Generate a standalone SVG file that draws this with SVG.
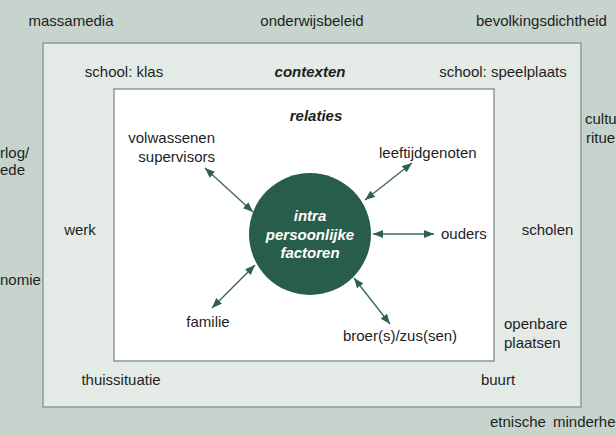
<svg xmlns="http://www.w3.org/2000/svg" width="616" height="436" viewBox="0 0 616 436">
<defs>
<style>
text{font-family:"Liberation Sans",Arial,sans-serif;font-size:15px;fill:#1e1e1e}
.m{text-anchor:middle}
.e{text-anchor:end}
.bi{font-weight:bold;font-style:italic}
.w{fill:#ffffff;font-weight:bold;font-style:italic;text-anchor:middle}
.arr{stroke:#3d6b5c;stroke-width:1.4;fill:none;marker-start:url(#ah);marker-end:url(#ah)}
</style>
<marker id="ah" viewBox="0 0 10 8" refX="10" refY="4" markerWidth="10" markerHeight="8" markerUnits="userSpaceOnUse" orient="auto-start-reverse">
<path d="M0,0 L10,4 L0,8 Z" fill="#2f6150"/>
</marker>
</defs>
<rect id="background" x="0" y="0" width="616" height="436" fill="#c6d4cd"/>
<g id="outer-labels">
<text class="m" x="71" y="26">massamedia</text>
<text class="m" x="312" y="26">onderwijsbeleid</text>
<text x="476" y="26">bevolkingsdichtheid</text>
<text x="585" y="124">cultu</text>
<text x="586" y="143">ritue</text>
<text x="0" y="158">rlog/</text>
<text x="0" y="175">ede</text>
<text x="0" y="285">nomie</text>
<text x="490" y="427">etnische</text>
<text x="553" y="427">minderhe</text>
</g>
<g id="contexten">
<rect x="43" y="43" width="538" height="364" fill="#e4ebe7" stroke="#8d9b95" stroke-width="1.5"/>
<text class="m" x="124" y="77">school: klas</text>
<text class="m bi" x="310" y="77">contexten</text>
<text class="m" x="503" y="77">school: speelplaats</text>
<text class="m" x="80" y="235">werk</text>
<text class="m" x="547.5" y="235">scholen</text>
<text x="504" y="329">openbare</text>
<text x="504" y="348">plaatsen</text>
<text class="m" x="121" y="385">thuissituatie</text>
<text class="m" x="498" y="385">buurt</text>
</g>
<g id="relaties">
<rect x="114" y="89" width="380" height="272" fill="#ffffff" stroke="#8d9b95" stroke-width="1.5"/>
<text class="m bi" x="316" y="121">relaties</text>
</g>
<g id="volwassenen">
<text class="e" x="215" y="143">volwassenen</text>
<text class="e" x="215" y="162">supervisors</text>
</g>
<g id="leeftijdgenoten"><text x="379" y="158">leeftijdgenoten</text></g>
<g id="ouders"><text x="441" y="239">ouders</text></g>
<g id="familie"><text class="m" x="208" y="327">familie</text></g>
<g id="broers"><text class="m" x="400" y="341">broer(s)/zus(sen)</text></g>
<g id="intra">
<circle cx="310" cy="234" r="61" fill="#285d4b"/>
<text class="w" x="310" y="221">intra</text>
<text class="w" x="310" y="240">persoonlijke</text>
<text class="w" x="310" y="258">factoren</text>
</g>
<g id="connectors">
<line class="arr" x1="205" y1="168" x2="253" y2="212"/>
<line class="arr" x1="412" y1="163" x2="365" y2="200"/>
<line class="arr" x1="373" y1="234" x2="434" y2="234"/>
<line class="arr" x1="212" y1="308" x2="255" y2="265"/>
<line class="arr" x1="354" y1="278" x2="390" y2="324"/>
</g>
</svg>
